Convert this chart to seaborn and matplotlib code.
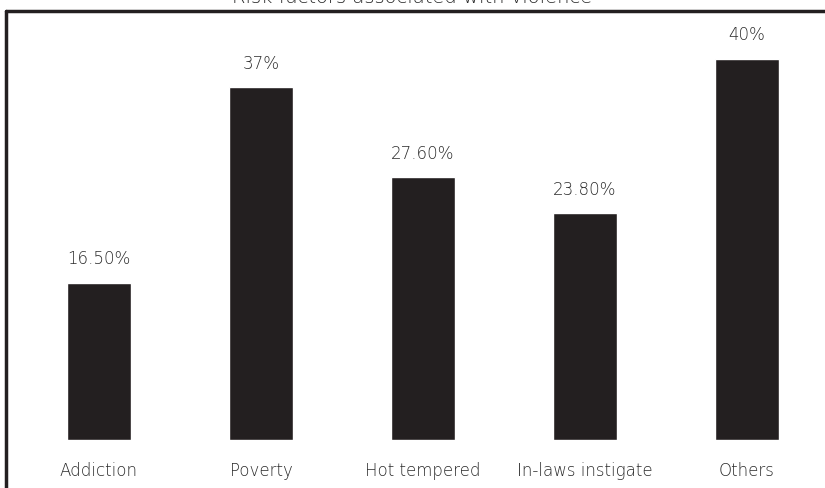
import matplotlib
matplotlib.use('Agg')
import matplotlib.pyplot as plt
import seaborn as sns
import pandas as pd
from matplotlib.lines import Line2D

categories = ['Addiction', 'Poverty', 'Hot tempered', 'In-laws instigate', 'Others']
values = [16.5, 37.0, 27.6, 23.8, 40.0]
value_labels = ['16.50%', '37%', '27.60%', '23.80%', '40%']
title = 'Risk factors associated with violence'

sns.set_theme(style='white')
plt.rcParams['font.family'] = ['DejaVu Sans']
plt.rcParams['font.weight'] = 'light'

TXT = '#2a2a2a'
W, H = 825, 488
fig = plt.figure(figsize=(W / 100, H / 100), dpi=100)
ax = fig.add_axes([18 / W, 48 / H, 810 / W, 428.9 / H])

df = pd.DataFrame({'cat': categories, 'val': values})
sns.barplot(data=df, x='cat', y='val', color='#231f20', width=0.395,
            saturation=1, ax=ax)

for i, (v, lab) in enumerate(zip(values, value_labels)):
    ax.text(i, v + 1.5, lab, ha='center', va='bottom', fontsize=12,
            color=TXT, fontweight='light')

ax.set_xlim(-0.5, 4.5)
ax.set_ylim(0, 45)
ax.set_xlabel('')
ax.set_ylabel('')
ax.set_yticks([])
ax.tick_params(axis='x', length=0, labelsize=12, labelcolor=TXT, pad=16)
for t in ax.get_xticklabels():
    t.set_fontweight('light')
for s in ax.spines.values():
    s.set_visible(False)
ax.patch.set_alpha(0)

# outer chart frame (cut by the image edges)
fig.add_artist(Line2D([6 / W, 6 / W], [0, 1 - 10.5 / H], color='#231f20',
                      lw=2.5, transform=fig.transFigure))
fig.add_artist(Line2D([6 / W, 1], [1 - 10.5 / H, 1 - 10.5 / H], color='#231f20',
                      lw=2.5, transform=fig.transFigure))
fig.text(412 / W, 1 - 3 / H, title, ha='center', va='baseline', fontsize=14,
         color=TXT, fontweight='light')

fig.savefig('out.png', dpi=100)
